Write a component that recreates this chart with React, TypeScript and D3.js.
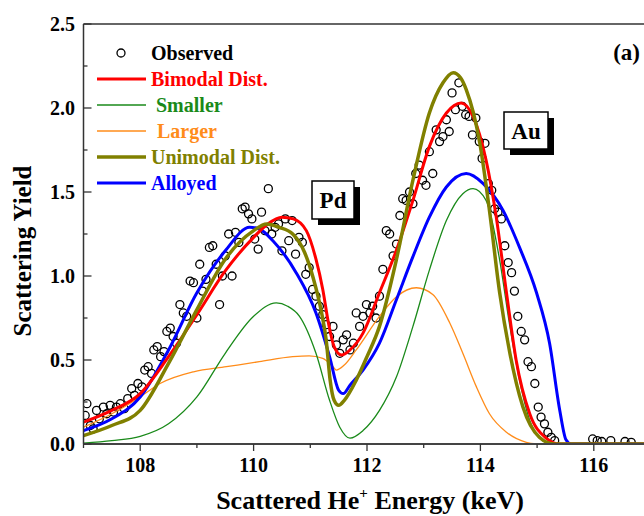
import * as d3 from "d3";
import React from "react";

// observed spectrum (keV, yield)
const obsX = [
  107.03, 107.06, 107.12, 107.17, 107.23, 107.28, 107.35, 107.41, 107.47, 107.53,
  107.58, 107.65, 107.72, 107.78, 107.85, 107.9, 107.96, 108.03, 108.08, 108.14,
  108.2, 108.24, 108.3, 108.36, 108.42, 108.47, 108.53, 108.58, 108.64, 108.7,
  108.76, 108.82, 108.88, 108.94, 109.0, 109.05, 109.1, 109.16, 109.22, 109.28,
  109.34, 109.4, 109.45, 109.5, 109.56, 109.62, 109.68, 109.74, 109.8, 109.85,
  109.91, 109.97, 110.02, 110.08, 110.14, 110.2, 110.26, 110.32, 110.38, 110.44,
  110.5, 110.56, 110.62, 110.68, 110.74, 110.8, 110.86, 110.92, 110.98, 111.04,
  111.1, 111.16, 111.22, 111.28, 111.34, 111.4, 111.46, 111.52, 111.58, 111.64,
  111.7, 111.76, 111.81, 111.87, 111.93, 111.99, 112.05, 112.1, 112.16, 112.22,
  112.28, 112.34, 112.4, 112.46, 112.52, 112.58, 112.63, 112.69, 112.75, 112.81,
  112.86, 112.92, 112.98, 113.04, 113.1, 113.16, 113.22, 113.28, 113.34, 113.4,
  113.45, 113.5, 113.56, 113.62, 113.68, 113.74, 113.8, 113.86, 113.92, 113.98,
  114.03, 114.08, 114.14, 114.2, 114.25, 114.31, 114.37, 114.43, 114.49, 114.55,
  114.6, 114.66, 114.72, 114.78, 114.84, 114.9, 114.96, 115.02, 115.07, 115.13,
  115.19, 115.25, 115.31, 115.98, 116.06, 116.14, 116.3, 116.55, 116.66,
];
const obsY = [
  0.17, 0.24, 0.11, 0.09, 0.2, 0.15, 0.22, 0.18, 0.23, 0.19,
  0.22, 0.24, 0.21, 0.27, 0.33, 0.29, 0.36, 0.34, 0.44, 0.46,
  0.42, 0.56, 0.58, 0.52, 0.55, 0.67, 0.69, 0.64, 0.6, 0.83,
  0.78, 0.76, 0.97, 0.96, 0.75, 1.07, 0.91, 0.98, 1.17, 1.18,
  1.07, 0.83, 1.0, 1.12, 1.25, 1.0, 1.26, 1.2, 1.4, 1.41,
  1.37, 1.34, 1.22, 1.16, 1.38, 1.27, 1.52, 1.25, 1.29, 1.31,
  1.15, 1.34, 1.21, 1.33, 1.13, 1.23, 1.2, 1.01, 1.05, 0.92,
  0.88, 0.82, 0.77, 0.71, 0.64, 0.7, 0.59, 0.54, 0.62, 0.65,
  0.56, 0.6, 0.78, 0.7, 0.76, 0.83, 0.78, 0.82, 0.75, 0.88,
  1.04, 1.27, 1.25, 1.12, 1.19, 1.36, 1.46, 1.45, 1.5, 1.43,
  1.61, 1.66, 1.57, 1.54, 1.74, 1.61, 1.87, 1.8, 1.83, 1.93,
  1.86, 2.09, 1.99, 2.15, 2.01, 1.96, 1.95, 1.84, 1.94, 1.8,
  1.7, 1.79, 1.55, 1.51, 1.4, 1.38, 1.34, 1.18, 1.08, 1.02,
  0.91, 0.76, 0.67, 0.62, 0.49, 0.46, 0.36, 0.22, 0.16, 0.12,
  0.07, 0.04, 0.02, 0.03, 0.02, 0.015, 0.02, 0.015, 0.01,
];

const bimodalX = [107.0, 107.5, 108.0, 108.5, 109.0, 109.5, 110.0, 110.25, 110.5, 110.7, 110.93, 111.1, 111.22, 111.32, 111.42, 111.55, 111.7, 111.93, 112.22, 112.52, 112.81, 113.1, 113.4, 113.66, 113.87, 114.1, 114.28, 114.46, 114.63, 114.87, 115.16, 115.4, 117.0];
const bimodalY = [0.13, 0.2, 0.3, 0.52, 0.77, 1.03, 1.23, 1.31, 1.35, 1.34, 1.27, 1.1, 0.92, 0.72, 0.58, 0.53, 0.56, 0.66, 0.9, 1.155, 1.45, 1.77, 1.97, 2.03, 1.95, 1.69, 1.35, 0.9, 0.5, 0.18, 0.035, 0.0, 0.0];

const unimodalX = [107.0, 107.5, 108.0, 108.5, 109.0, 109.5, 110.0, 110.23, 110.45, 110.69, 110.9, 111.05, 111.2, 111.28, 111.35, 111.42, 111.5, 111.6, 111.81, 112.0, 112.22, 112.52, 112.81, 113.1, 113.34, 113.52, 113.65, 113.75, 113.99, 114.16, 114.34, 114.52, 114.75, 115.04, 115.3, 117.0];
const unimodalY = [0.05, 0.11, 0.2, 0.48, 0.8, 1.1, 1.27, 1.31, 1.29, 1.25, 1.14, 0.99, 0.78, 0.62, 0.38, 0.26, 0.23, 0.26, 0.38, 0.52, 0.7, 1.1, 1.57, 1.97, 2.15, 2.21, 2.18, 2.11, 1.79, 1.39, 0.9, 0.54, 0.22, 0.04, 0.0, 0.0];

const alloyedX = [107.0, 107.5, 108.0, 108.5, 109.0, 109.5, 109.93, 110.1, 110.34, 110.75, 111.1, 111.34, 111.5, 111.58, 111.7, 111.93, 112.22, 112.52, 112.81, 113.1, 113.4, 113.75, 114.05, 114.4, 114.69, 114.99, 115.22, 115.4, 115.51, 115.6, 117.0];
const alloyedY = [0.08, 0.15, 0.28, 0.56, 0.9, 1.15, 1.29, 1.28, 1.21, 1.02, 0.78, 0.52, 0.32, 0.3, 0.35, 0.44, 0.6, 0.86, 1.115, 1.35, 1.53, 1.61, 1.55, 1.39, 1.17, 0.9, 0.6, 0.2, 0.025, 0.0, 0.0];

const smallerX = [107.0, 107.5, 108.0, 108.5, 109.0, 109.5, 110.0, 110.4, 110.6, 110.81, 111.1, 111.34, 111.52, 111.7, 111.93, 112.22, 112.52, 112.81, 113.1, 113.4, 113.69, 113.87, 114.1, 114.34, 114.52, 114.69, 114.87, 115.1, 115.3];
const smallerY = [0.005, 0.02, 0.045, 0.12, 0.28, 0.54, 0.76, 0.84, 0.82, 0.76, 0.54, 0.26, 0.1, 0.035, 0.08, 0.2, 0.4, 0.7, 1.035, 1.33, 1.49, 1.52, 1.45, 1.095, 0.7, 0.38, 0.14, 0.02, 0.0];

const largerX = [107.0, 107.5, 108.0, 108.35, 108.94, 109.52, 110.1, 110.69, 110.98, 111.22, 111.4, 111.46, 111.6, 111.81, 112.22, 112.52, 112.87, 113.16, 113.46, 113.69, 113.93, 114.16, 114.46, 114.81, 115.0];
const largerY = [0.1, 0.18, 0.28, 0.36, 0.43, 0.46, 0.49, 0.52, 0.525, 0.51, 0.46, 0.44, 0.47, 0.56, 0.76, 0.877, 0.93, 0.89, 0.72, 0.54, 0.34, 0.18, 0.07, 0.01, 0.0];

const xTicks = [108, 110, 112, 114, 116];
const yTicks = [0, 0.5, 1, 1.5, 2, 2.5];

const FONT = "'Liberation Serif', 'Times New Roman', serif";

const series = [
  { name: "Larger", xs: largerX, ys: largerY, color: "#ff8c1a", width: 1.3 },
  { name: "Smaller", xs: smallerX, ys: smallerY, color: "#1a8a1a", width: 1.3 },
  { name: "Alloyed", xs: alloyedX, ys: alloyedY, color: "#0000ff", width: 3 },
  { name: "Bimodal Dist.", xs: bimodalX, ys: bimodalY, color: "#ff0000", width: 3 },
  { name: "Unimodal Dist.", xs: unimodalX, ys: unimodalY, color: "#808000", width: 3.5 },
];

const legendRows = [
  { label: "Bimodal Dist.", color: "#ff0000", width: 3, indent: 0 },
  { label: "Smaller", color: "#1a8a1a", width: 1.3, indent: 5 },
  { label: "Larger", color: "#ff8c1a", width: 1.5, indent: 6 },
  { label: "Unimodal Dist.", color: "#808000", width: 3.5, indent: 0 },
  { label: "Alloyed", color: "#0000ff", width: 3, indent: 0 },
];

const App = () => {
  const x = d3.scaleLinear().domain([107, 117]).range([83.5, 650.5]);
  const y = d3.scaleLinear().domain([0, 2.5]).range([444, 24]);

  const line = d3
    .line<[number, number]>()
    .x((d) => x(d[0]))
    .y((d) => y(d[1]))
    .curve(d3.curveMonotoneX);

  const minorX = d3.range(107, 118, 1);
  const minorY = d3.range(0, 2.51, 0.25);

  const box = (label: string, x0: number, y0: number, w: number, h: number) => (
    <g>
      <rect x={x0 + 6} y={y0 + 6} width={w} height={h} fill="#000" />
      <rect x={x0} y={y0} width={w} height={h} fill="#fff" stroke="#000" strokeWidth={1.5} />
      <text x={x0 + w / 2} y={y0 + h / 2 + 8} textAnchor="middle" fontSize={23} fontWeight="bold">
        {label}
      </text>
    </g>
  );

  return (
    <div style={{ position: "absolute", left: 0, top: 0 }}>
      <svg width={644} height={516} style={{ display: "block", background: "#fff" }} fontFamily={FONT}>
        <defs>
          <clipPath id="plot">
            <rect x={83.5} y={24} width={567} height={420} />
          </clipPath>
        </defs>

        {/* observed points */}
        <g clipPath="url(#plot)">
          {obsX.map((v, i) => (
            <circle key={i} cx={x(v)} cy={y(obsY[i])} r={4} fill="none" stroke="#000" strokeWidth={1.3} />
          ))}
          {series.map((s) => (
            <path
              key={s.name}
              d={line(s.xs.map((v, i) => [v, s.ys[i]] as [number, number])) || ""}
              fill="none"
              stroke={s.color}
              strokeWidth={s.width}
              strokeLinejoin="round"
            />
          ))}
        </g>

        {/* axes */}
        <line x1={83.5} x2={644} y1={24} y2={24} stroke="#333" strokeWidth={1.5} />
        <line x1={83.5} x2={83.5} y1={24} y2={444} stroke="#333" strokeWidth={1.5} />
        <line x1={83.5} x2={644} y1={444} y2={444} stroke="#444" strokeWidth={2} />

        {minorY.map((t) => (
          <line key={"yt" + t} x1={83.5} x2={83.5 + (t % 0.5 === 0 ? 8 : 4)} y1={y(t)} y2={y(t)} stroke="#333" strokeWidth={1.3} />
        ))}
        {yTicks.map((t) => (
          <text key={"yl" + t} x={75} y={y(t) + 7} textAnchor="end" fontSize={20} fontWeight="bold">
            {t.toFixed(1)}
          </text>
        ))}

        {minorX.map((t) => (
          <line key={"xt" + t} x1={x(t)} x2={x(t)} y1={444} y2={444 + (t % 2 === 0 ? 7 : 4)} stroke="#333" strokeWidth={1.3} />
        ))}
        {xTicks.map((t) => (
          <text key={"xl" + t} x={x(t)} y={472} textAnchor="middle" fontSize={20} fontWeight="bold">
            {t}
          </text>
        ))}

        {/* axis titles */}
        <text x={370} y={509} textAnchor="middle" fontSize={26} fontWeight="bold">
          Scattered He<tspan dy={-11} fontSize={15}>+</tspan>
          <tspan dy={11}> Energy (keV)</tspan>
        </text>
        <text
          transform="translate(31,251) rotate(-90)"
          textAnchor="middle"
          fontSize={25}
          fontWeight="bold"
        >
          Scattering Yield
        </text>

        {/* legend */}
        <circle cx={121} cy={53} r={4} fill="none" stroke="#000" strokeWidth={1.3} />
        <text x={151} y={60} fontSize={20} fontWeight="bold">
          Observed
        </text>
        {legendRows.map((r, i) => {
          const cy = 79 + i * 26;
          return (
            <g key={r.label}>
              <line x1={97} x2={146} y1={cy} y2={cy} stroke={r.color} strokeWidth={r.width} />
              <text x={151 + r.indent} y={cy + 7} fontSize={20} fontWeight="bold" fill={r.color}>
                {r.label}
              </text>
            </g>
          );
        })}

        <text x={640} y={60} textAnchor="end" fontSize={23} fontWeight="bold">
          (a)
        </text>

        {box("Pd", 312, 181, 42, 38)}
        {box("Au", 504, 112, 44, 37)}
      </svg>
    </div>
  );
};

export default App;
